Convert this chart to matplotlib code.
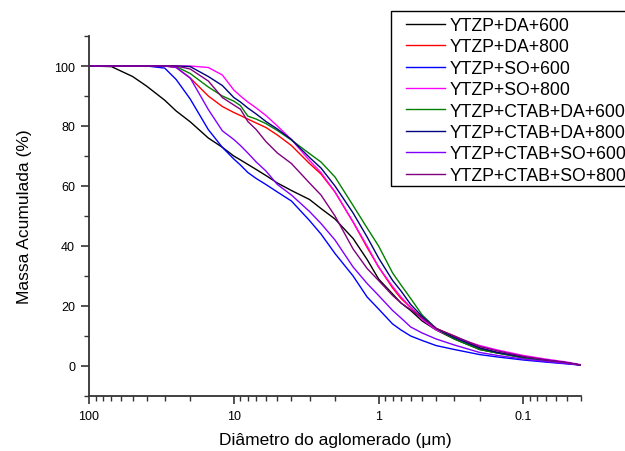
import matplotlib
matplotlib.use("Agg")
import matplotlib.pyplot as plt
from matplotlib.patches import Rectangle
from matplotlib.ticker import LogLocator, FixedLocator, NullFormatter, MultipleLocator

plt.rcParams['font.family'] = ['Liberation Sans', 'DejaVu Sans']

diam = [100, 70, 50, 40, 30, 25, 20, 15, 12, 10, 9, 8, 7, 6, 5, 4, 3, 2.5, 2,
        1.5, 1.2, 1, 0.8, 0.7, 0.6, 0.5, 0.4, 0.3, 0.2, 0.15, 0.1, 0.07, 0.05, 0.04]

da600 = [100, 99.8, 96.5, 93.3, 88.6, 85, 81.4, 76, 72.9, 70, 68.7, 67.2, 65.5, 63.5, 61, 58.5, 55.5, 52.5, 49,
         42.5, 35.5, 29, 24, 21, 18.5, 15, 12, 9, 5.5, 4.3, 3, 2, 1, 0.3]
da800 = [100, 100, 100, 100, 100, 99.5, 96, 90, 86.5, 84.5, 83.5, 82.3, 81, 79.5, 77, 73.5, 67.5, 64, 58,
         48, 39.5, 33, 26, 22.5, 19.5, 16, 12.5, 10, 6, 4.5, 2.8, 1.8, 1, 0.3]
so600 = [100, 100, 100, 100, 99.3, 95.5, 89, 78.8, 72.9, 69, 67, 64.5, 62.5, 60.5, 58, 55, 48.5, 44, 37.5,
         30, 23, 19, 14, 12, 10, 8.5, 6.8, 5.5, 3.8, 3, 2, 1.3, 0.7, 0.3]
so800 = [100, 100, 100, 100, 100, 100, 100, 99.5, 97, 92, 90, 88, 86, 83.5, 80, 75.5, 68.5, 64.5, 58,
         48, 40, 33, 26.5, 23, 19.5, 15.5, 12, 9.5, 6.8, 5.3, 3.5, 2.3, 1.3, 0.4]
ctab_da600 = [100, 100, 100, 100, 100, 99.8, 97.5, 93, 90, 88.3, 86.8, 83.3, 82.3, 80.8, 78.5, 75.3, 70.8, 68, 63,
              53.5, 46, 40, 31, 27, 22.5, 17, 12.5, 9, 5.5, 4.3, 2.6, 1.8, 1, 0.3]
ctab_da800 = [100, 100, 100, 100, 100, 100, 99.8, 96.5, 93.5, 89.5, 88, 86, 84, 81.5, 79, 75.5, 69.5, 66, 60,
              51, 43, 36, 28.5, 25, 20.5, 16.5, 12.5, 9.5, 6, 4.5, 3, 2, 1.1, 0.3]
ctab_so600 = [100, 100, 100, 100, 100, 99.5, 96, 85.5, 78.4, 75.5, 73.5, 71, 68, 65, 60.5, 57, 51.5, 47.5, 42,
              33, 27.5, 23.5, 18.5, 16, 13, 11, 9, 7, 4.5, 3.5, 2.3, 1.5, 0.8, 0.3]
ctab_so800 = [100, 100, 100, 100, 100, 100, 99, 95, 89.5, 87, 85.6, 81.5, 78.8, 74.8, 71, 67.5, 61, 57, 50,
              39, 32.5, 28.5, 23.5, 21, 18.8, 16, 12.5, 10, 6.5, 5, 3.2, 2, 1.1, 0.3]

labels = ['YTZP+DA+600', 'YTZP+DA+800', 'YTZP+SO+600', 'YTZP+SO+800',
          'YTZP+CTAB+DA+600', 'YTZP+CTAB+DA+800', 'YTZP+CTAB+SO+600', 'YTZP+CTAB+SO+800']
series = [da600, da800, so600, so800, ctab_da600, ctab_da800, ctab_so600, ctab_so800]
colors = ['#000000', '#FF0000', '#0000FF', '#FF00FF', '#008000', '#000080', '#8000FF', '#800080']

xticks = [100, 10, 1, 0.1]
xticklabels = ['100', '10', '1', '0.1']
yticks = [0, 20, 40, 60, 80, 100]

W, H = 625, 452
fig = plt.figure(figsize=(W / 100, H / 100), dpi=100)
ax = fig.add_axes([89 / W, 1 - 397 / H, 492 / W, 360 / H])

for y, lab, c in zip(series, labels, colors):
    ax.plot(diam, y, color=c, lw=1.0, label=lab)

ax.set_xscale('log')
ax.set_xlim(100, 0.04)
ax.set_ylim(-10, 110)

ax.xaxis.set_major_locator(FixedLocator(xticks))
ax.set_xticklabels(xticklabels)
ax.xaxis.set_minor_locator(LogLocator(base=10, subs=range(2, 10)))
ax.xaxis.set_minor_formatter(NullFormatter())
ax.set_yticks(yticks)
ax.yaxis.set_minor_locator(MultipleLocator(10))

for s in ['top', 'right']:
    ax.spines[s].set_visible(False)
for s in ['left', 'bottom']:
    ax.spines[s].set_linewidth(1.3)
    ax.spines[s].set_color('#333333')

ax.tick_params(which='major', direction='out', length=6, width=1.2, labelsize=9, color='#333333', pad=4)
ax.tick_params(which='minor', direction='out', length=3.5, width=1.0, color='#333333')

ax.set_xlabel('Diâmetro do aglomerado (μm)', fontsize=12.5, labelpad=7)
ax.set_ylabel('Massa Acumulada (%)', fontsize=12.5, labelpad=16)

# legend entries (frame drawn separately so it can run past the figure edge)
leg = fig.legend(loc='upper left', bbox_to_anchor=(406 / W, 1 - 18 / H), fontsize=12.7,
                 frameon=False, handlelength=2.2, handletextpad=0.25, labelspacing=0.25,
                 borderpad=0, borderaxespad=0)
fig.patches.append(Rectangle((391 / W, 1 - 187 / H), 400 / W, 175 / H, transform=fig.transFigure,
                             fill=False, edgecolor='black', linewidth=1.0))

fig.savefig('out.png', dpi=100)
